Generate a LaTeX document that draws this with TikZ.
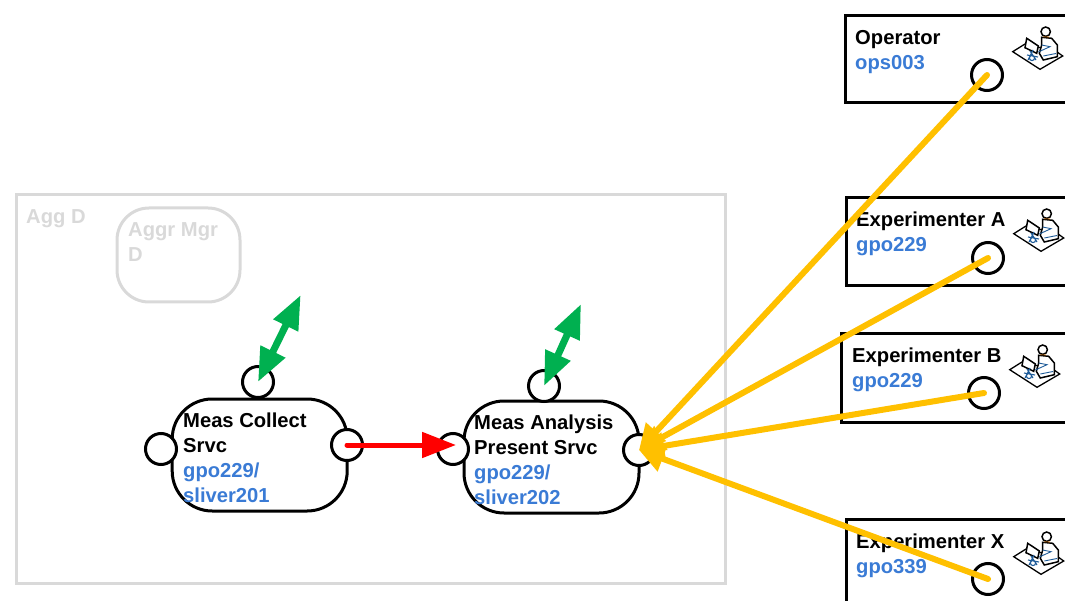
\documentclass[tikz,border=0pt]{standalone}
\usepackage{fontspec}
\setmainfont{Liberation Sans}
\usetikzlibrary{arrows.meta}
\definecolor{aggrgray}{HTML}{D9D9D9}
\definecolor{loginblue}{HTML}{3A7BD5}
\definecolor{linkgreen}{HTML}{00B050}
\definecolor{linkorange}{HTML}{FFC000}
\definecolor{iconblue}{HTML}{1F5C99}
\tikzset{
  lbl/.style={anchor=north west, inner sep=0pt, align=left, font=\fontsize{20.2}{25}\selectfont\bfseries},
  srvc/.style={draw=black, line width=3pt, rectangle, outer sep=0pt, rounded corners=40pt, minimum width=175pt, minimum height=112pt},
  port/.style={draw=black, fill=white, line width=3pt, circle, outer sep=0pt, inner sep=0pt, minimum size=31pt},
  actor/.style={draw=black, line width=3pt, rectangle, outer sep=0pt, anchor=north west, minimum width=240pt},
  greyed/.style={draw=aggrgray, line width=3pt, rectangle, outer sep=0pt},
  greenlink/.style={{Triangle[length=34pt,width=26pt]}-{Triangle[length=34pt,width=26pt]}, linkgreen, line width=7pt},
  redlink/.style={-{Triangle[length=34pt,width=25pt]}, red, line width=5pt, line cap=round},
  orangelink/.style={-{Triangle[length=25pt,width=26pt]}, linkorange, line width=6pt, line cap=round},
  pics/desk/.style={code={
    \draw[black, line width=1.3pt, fill=white] (-24.3,1.7) -- (-12,-6) -- (19.7,1.7) -- (25.7,6) -- (3,19.3) -- cycle;
    \draw[black, line width=1.5pt, fill=white] (4.7,-12.7) -- (14.7,-11.7) -- (20.3,-5) -- (20.3,6.7) -- (6.3,10) -- (2.3,3.3) -- (4.7,-5) -- cycle;
    \draw[black, line width=1.5pt, fill=white] (8.7,-18.3) circle (4.7pt);
    \draw[linkorange!70!red, line width=.6pt] (6,-13.2) -- (12,-13);
    \draw[iconblue, line width=.9pt] (4.7,-5) -- (13,-3.3) -- (1.3,2) (6.3,6) -- (19,3.5);
    \draw[black, line width=1.5pt, fill=white] (-10.3,-11.7) -- (1.3,-4) -- (-0.3,3.3) -- (-12,-2.3) -- cycle;
    \draw[iconblue, line width=1.1pt] (-9,10) -- (-4,0) (-1,10) -- (-7,1) (-10,5) -- (1,7) (-5,8) circle (2.6pt);
  }}
}
\begin{document}
\begin{tikzpicture}[x=1pt, y=-1pt]
  \useasboundingbox (0,0) rectangle (1065,601);

  % greyed out aggregate
  \node (aggD) [greyed, anchor=north west, minimum width=709pt, minimum height=388pt] at (16,195) {};
  \node (aggDlbl) [lbl, text=aggrgray] at (26,209) {Agg D};
  \node (mgrD) [greyed, rounded corners=32pt, anchor=north west, minimum width=123pt, minimum height=94pt] at (117,208) {};
  \node (mgrDlbl) [lbl, text=aggrgray] at (128,222.5) {Aggr Mgr\\D};

  % services
  \node (collect) [srvc] at (259.7,455) {};
  \node (analysis) [srvc] at (551.5,457) {};
  \node (collectlbl) [lbl] at (183,413) {Meas Collect\\Srvc\\\textcolor{loginblue}{gpo229/}\\\textcolor{loginblue}{sliver201}};
  \node (analysislbl) [lbl] at (474,415) {Meas Analysis\\Present Srvc\\\textcolor{loginblue}{gpo229/}\\\textcolor{loginblue}{sliver202}};

  \node (collectTop) [port] at (258,382) {};
  \node (collectIn) [port] at (161,449) {};
  \node (collectOut) [port] at (347,445) {};
  \node (analysisTop) [port] at (544,386) {};
  \node (analysisIn) [port] at (453,449) {};
  \node (analysisOut) [port] at (639,450) {};

  % users
  \node (operator) [actor, minimum height=87pt] at (845,16) {};
  \node (expA) [actor, minimum height=88pt] at (846,198) {};
  \node (expB) [actor, minimum height=88pt] at (841,334) {};
  \node (expX) [actor, minimum height=100pt] at (846,519) {};

  \node (operatorlbl) [lbl] at (855,30) {Operator\\\textcolor{loginblue}{ops003}};
  \node (expAlbl) [lbl] at (856,212) {Experimenter A\\\textcolor{loginblue}{gpo229}};
  \node (expBlbl) [lbl] at (852,348) {Experimenter B\\\textcolor{loginblue}{gpo229}};
  \node (expXlbl) [lbl] at (856,534) {Experimenter X\\\textcolor{loginblue}{gpo339}};

  \pic at (1037,50) {desk};
  \pic at (1038,232) {desk};
  \pic at (1034,368) {desk};
  \pic at (1038,555) {desk};

  \node (operatorPort) [port] at (987,75) {};
  \node (expAPort) [port] at (988,258) {};
  \node (expBPort) [port] at (984,393) {};
  \node (expXPort) [port] at (988,579) {};

  \coordinate (collectAir) at (300.7,295);
  \coordinate (analysisAir) at (581,304);

  \path[] (collectTop.center) [greenlink] edge (collectAir);
  \path[] (analysisTop.center) [greenlink] edge (analysisAir);
  \path[] (collectOut.center) [redlink] edge ([shift={(3,-4)}]analysisIn.center);
  \path[] (operatorPort.center) [orangelink] edge (analysisOut.center);
  \path[] (expAPort.center) [orangelink] edge (analysisOut.center);
  \path[] (expBPort.center) [orangelink] edge (analysisOut.center);
  \path[] (expXPort.center) [orangelink] edge (analysisOut.center);
\end{tikzpicture}
\end{document}
